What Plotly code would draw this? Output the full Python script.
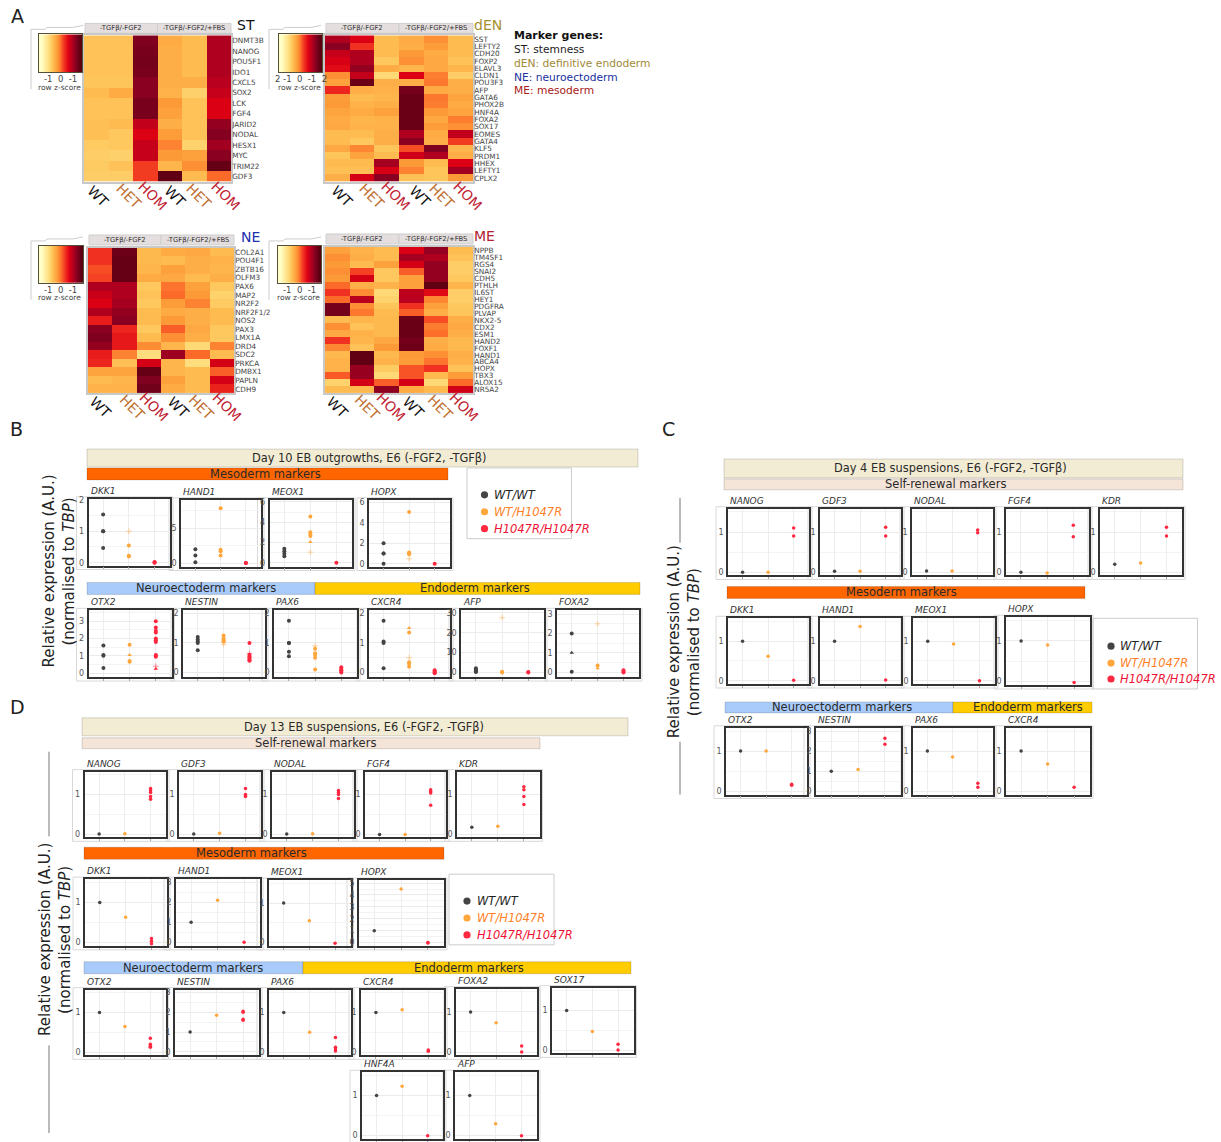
import plotly.graph_objects as go

W, H = 1221, 1142
FONT = "DejaVu Sans"

# ---------- heatmap data (colour level) ----------
COND_LABELS = ["WT", "HET", "HOM", "WT ", "HET ", "HOM "]
ST_GENES = ["DNMT3B","NANOG","POU5F1","IDO1","CXCL5","SOX2","LCK","FGF4","JARID2","NODAL","HESX1","MYC","TRIM22","GDF3"]
ST_Z = [[2.8,2.8,9,3.5,3,8],[2.8,2.8,9.2,3.4,3,8],[2.8,2.8,9.3,3.4,3,8],[2.8,2.8,9.2,3.4,3,8],
        [2.7,2.7,8.8,3.4,3.4,7.8],[3,3.5,8.8,3.3,2.3,7.5],[2.8,2.8,9.2,4,2.8,7],[2.8,2.8,9.2,3.8,2.8,7],
        [2.9,3,7.6,3.4,2.8,8.6],[2.9,2.6,7,3.9,2.8,8.9],[2.5,2.6,7.5,4.5,2.2,8.3],[2.4,2.3,7.5,4,3.8,8.8],
        [2.5,2.8,5.8,3.2,4.2,9.7],[2.4,2.4,5.8,9.8,3,5]]
DEN_GENES = ["SST","LEFTY2","CDH20","FOXP2","ELAVL3","CLDN1","POU3F3","AFP","GATA6","PHOX2B","HNF4A","FOXA2","SOX17","EOMES","GATA4","KLF5","PRDM1","HHEX","LEFTY1","CPLX2"]
DEN_Z = [[8,7,3,3.5,4.2,3],[8.8,6,3,3.4,3.9,3],[7.5,8,3,4,3.5,3],[7.1,8,2.6,4.2,3.6,2.8],[6.8,8.6,3.5,3.2,3.6,3.2],
         [4.2,7.6,2,7,4.6,2.4],[3.8,9.6,3.4,3.4,4.7,3.4],[6.2,3.4,3.3,9.3,3.5,3.4],[3.9,3,3.2,9.6,4.7,3.7],[4,3.3,3.4,9.6,4.6,3.5],
         [3.7,3.5,3.8,9.6,4,3.7],[3.5,3.2,3.3,9.6,3.6,4.6],[3.6,3.3,3.3,9.6,3.9,4.2],[3,3,3.4,8,3.5,7.6],[3,2.6,3.4,8.8,3.4,5.8],
         [3.6,4.4,2.7,5.5,9,3.2],[2.7,3.7,3,7.3,8,3.4],[3,3,8.2,4,3,7],[2.9,2.9,7.1,4.5,2.7,8.3],[3.4,7.2,8.8,2.9,2.7,4]]
NE_GENES = ["COL2A1","POU4F1","ZBTB16","OLFM3","PAX6","MAP2","NR2F2","NRF2F1/2","NOS2","PAX3","LMX1A","DRD4","SDC2","PRKCA","DMBX1","PAPLN","CDH9"]
NE_Z = [[6,9.5,3.1,3.5,3.6,3],[6,9.7,3.1,3,3.4,3.3],[5.5,9.7,3.2,3.8,3.4,3.2],[5.7,9.7,3.5,3.6,3,3.4],[8,8,2.6,4.8,3.8,2.6],
        [7.4,8,2.8,5,4,2.2],[7,8.2,2.6,3.9,4.5,2.5],[8,8.6,3,3.5,3.4,3],[6.4,8.8,3,4,3.4,3],[8.8,6.2,2.6,5.2,3.6,2.6],
        [9,6.5,3,4.2,3.4,2.6],[8.6,6.5,4.3,3.2,2,4.5],[6.4,4.5,1.8,8.4,5,3],[6.2,2.9,7.2,3.2,1.8,7.2],[3.7,3.7,9.7,3.2,3,5.2],
        [3,3.2,9,3.8,3,7.2],[3.3,3.3,9.4,3.5,3,6.3]]
ME_GENES = ["NPPB","TM4SF1","RGS4","SNAI2","CDH5","PTHLH","IL6ST","HEY1","PDGFRA","PLVAP","NKX2-5","CDX2","ESM1","HAND2","FOXF1","HAND1","ABCA4","HOPX","TBX3","ALOX15","NR5A2"]
ME_Z = [[3.8,3.3,3,7,8.6,3],[4.2,3.4,3,8.2,8,2.8],[4,3,3.8,7.2,8.6,2.4],[4.2,5.7,2.6,5.2,8.6,2.4],[4,7.2,2.6,3.8,8.6,2.6],
        [5,3.4,3.3,3.8,9.8,3.2],[6,4.3,2,7.7,6.8,2.4],[5,7.8,2.2,7.8,4.4,2.4],[9.3,4.2,2.7,6,3.8,2.6],[9.3,4.7,3,5.2,3.4,2.7],
        [3,3.2,3.1,9.6,5.5,3.4],[4.2,2.8,3.1,9.6,4.6,3.6],[3.6,3.3,3.1,9.6,4.9,3.4],[6,3.2,3.6,9.3,3.4,3.1],[4.4,2.8,4,9.5,3.5,3.1],
        [3.1,9.8,3.1,4,4.2,3.4],[3.3,9.8,3.3,3.9,4.8,3.3],[3.3,8.5,2.5,5.4,6,2.8],[5.3,8.5,2,5.4,3.1,3.9],[2.2,7.2,5.2,7.2,2,5],
        [3,3.1,8.7,3.5,3.1,7.3]]
KEY_LEVELS = [0,1,2,3,4,5,6,7,8,9,10]

# ---------- dot-plot data: relative expression per genotype ----------
B_WT = {"DKK1":[1.53,1,1,0.47],"HAND1":[2,1.1,0.1],"MEOX1":[1.4,1.15,0.9,0.65],"HOPX":[2,1,1,0.02],
        "OTX2":[1.6,1.05,1,0.3],"NESTIN":[1.2,1.12,1.05,1,0.75],"PAX6":[1.75,1,1,0.7,0.55],"CXCR4":[1.75,1.05,1,0.15],
        "AFP":[2.2,1.5,1,0.7,0.3],"FOXA2":[2,0.02]}
B_HET = {"DKK1":[0.55,0.22,0.2],"HAND1":[7.9,1.9,1.7,1.1],"MEOX1":[4.55,3,2.8,2.65],"HOPX":[5.05,1.1,1,0.95],
         "OTX2":[1.65,0.7,0.65],"NESTIN":[1.25,1.15,1.1,1.05,1.05],"PAX6":[0.8,0.65,0.6,0.5,0.1],"CXCR4":[1.35,0.35,0.3,0.2],
         "AFP":[0.4,0.1],"FOXA2":[0.35]}
B_HOM = {"DKK1":[0.02,0,0.01],"HAND1":[0.02,0],"MEOX1":[0.02],"HOPX":[0.02],
         "OTX2":[3,2.65,2.45,2.35,2,1.9,1.8,1.05,1,0.95],"NESTIN":[1,0.6,0.55,0.5,0.47,0.42,0.4],"PAX6":[0.18,0.12,0.08,0.05,0],
         "CXCR4":[0.08,0.04,0,-0.02],"AFP":[0.3,0.1],"FOXA2":[0.1,0.02,-0.02]}
B_WT_TRI = {"FOXA2":[1]}
B_HET_TRI = {"MEOX1":[2.05],"OTX2":[1.05],"CXCR4":[1.5],"FOXA2":[0.2]}
B_HOM_TRI = {"OTX2":[0.25]}
B_HET_FAINT = {"DKK1":[1],"MEOX1":[1.05],"HOPX":[0.5],"NESTIN":[0.95],"PAX6":[0.9],"CXCR4":[0.5],"AFP":[27.5],"FOXA2":[2.5]}
B_HOM_FAINT = {"OTX2":[0.4],"NESTIN":[0.65]}

C_WT = {"NANOG":[0],"GDF3":[0.02],"NODAL":[0.03],"FGF4":[0],"KDR":[0.2],"DKK1":[1],"HAND1":[1],"MEOX1":[1],"HOPX":[1],
        "OTX2":[1],"NESTIN":[1],"PAX6":[1],"CXCR4":[1]}
C_HET = {"NANOG":[0],"GDF3":[0.02],"NODAL":[0.03],"FGF4":[-0.02],"KDR":[0.23],"DKK1":[0.62],"HAND1":[1.37],"MEOX1":[0.93],"HOPX":[0.9],
         "OTX2":[1],"NESTIN":[1.08],"PAX6":[0.85],"CXCR4":[0.68]}
C_HOM = {"NANOG":[1.1,0.9],"GDF3":[1.12,0.9],"NODAL":[1.05,0.98],"FGF4":[1.17,0.88],"KDR":[1.12,0.9],"DKK1":[0.01],"HAND1":[0.02],"MEOX1":[0],"HOPX":[-0.02],
         "OTX2":[0.17,0.15],"NESTIN":[2.65,2.35],"PAX6":[0.2,0.1],"CXCR4":[0.1]}

D_WT = {"NANOG":[0],"GDF3":[0],"NODAL":[0],"FGF4":[-0.01],"KDR":[0.17],"DKK1":[1],"HAND1":[1],"MEOX1":[1],"HOPX":[1],
        "OTX2":[1],"NESTIN":[1],"PAX6":[1],"CXCR4":[1],"FOXA2":[1],"SOX17":[1],"HNF4A":[1],"AFP":[1]}
D_HET = {"NANOG":[0.01],"GDF3":[0.02],"NODAL":[0.01],"FGF4":[-0.01],"KDR":[0.2],"DKK1":[0.63],"HAND1":[2.1],"MEOX1":[0.55],"HOPX":[4.5],
         "OTX2":[0.65],"NESTIN":[1.85],"PAX6":[0.5],"CXCR4":[1.07],"FOXA2":[0.73],"SOX17":[0.47],"HNF4A":[1.23],"AFP":[0.3]}
D_HOM = {"NANOG":[1.15,1.1,1.05,0.95,0.88],"GDF3":[1.15,1,0.97,0.95],"NODAL":[1.1,1.05,1,0.9],"FGF4":[1.12,1.08,1.04,0.73],"KDR":[1.2,1.12,0.95,0.75],
         "DKK1":[0.1,0.03,-0.03],"HAND1":[0],"MEOX1":[-0.02],"HOPX":[-0.05,0],"OTX2":[0.35,0.2,0.15,0.12],"NESTIN":[2.05,2,1.65,1.6],
         "PAX6":[0.37,0.12,0.08,0.03],"CXCR4":[0.05,0.02],"FOXA2":[0.15,0],"SOX17":[0.15,0],"HNF4A":[0],"AFP":[0]}

GENO_LABELS = ["WT/WT", "WT/H1047R", "H1047R/H1047R"]
GENO_COLORS = ["#444444", "#FFA63C", "#FF2840"]
GENO_TEXT = ["#222222", "#FF7F27", "#EE1133"]
COLOR_SCALE = [[0,"#FFFFC8"],[0.2,"#FED976"],[0.3,"#FEBC50"],[0.4,"#FD9A38"],[0.5,"#FC6A2A"],[0.6,"#F03020"],
               [0.7,"#DC0014"],[0.8,"#B00020"],[0.9,"#800020"],[1,"#5A0010"]]

# ---------- layout tables (pixel boxes on the page) ----------
# gene, left, right, top, bottom, ymin, ymax, dtick
B_PANELS = [("DKK1",88.5,170,498,565,-0.09,2.03,1),("HAND1",181,261,499,566,-0.5,9.1,5),("MEOX1",269.5,352,499,566,-0.36,6.2,2),("HOPX",369,450,499,566,-0.26,6.25,2),
            ("OTX2",88.5,171.5,610,677,-0.23,3.64,1),("NESTIN",183,265,610,677,-0.15,2.1,1),("PAX6",274,357,610,677,-0.15,2.1,1),("CXCR4",369,450,610,677,-0.15,2.1,1),
            ("AFP",461,544,610,677,-2.2,31.2,10),("FOXA2",557,639,610,677,-0.25,3.2,1)]
R = (-0.083, 1.58)
C_PANELS = [("NANOG",728,809,508,575,*R,1),("GDF3",820,901,508,575,*R,1),("NODAL",912,993,508,575,*R,1),("FGF4",1006,1089,508,575,*R,1),("KDR",1100,1182,508,575,*R,1),
            ("DKK1",728,809,618,684,*R,1),("HAND1",820,901,618,684,*R,1),("MEOX1",913,995,618,684,*R,1),("HOPX",1006,1090,617,685,*R,1),
            ("OTX2",726,807,728,795,*R,1),("NESTIN",816,901,728,795,-0.17,3.17,1),("PAX6",913,993,728,795,*R,1),("CXCR4",1006,1090,728,795,*R,1)]
D_PANELS = [("NANOG",84.5,166,772,838,*R,1),("GDF3",179,261,772,838,*R,1),("NODAL",272,354,772,838,*R,1),("FGF4",365,446,772,838,*R,1),("KDR",457,539.5,772,838,*R,1),
            ("DKK1",85,167,880,947,*R,1),("HAND1",176,260,880,947,-0.18,3.15,1),("MEOX1",269,350.5,881,947,*R,1),("HOPX",359,444,881,947,-0.28,5.25,1),
            ("OTX2",85,165.6,991,1057,*R,1),("NESTIN",175,259,991,1057,-0.18,3.15,1),("PAX6",269,351,991,1057,*R,1),("CXCR4",361,444,991,1057,*R,1),
            ("FOXA2",456,537,990,1057,*R,1),("SOX17",552,633.5,989,1055,*R,1),("HNF4A",362,443,1074,1141,*R,1),("AFP",455,537,1074,1141,*R,1)]

fig = go.Figure()
shapes, annos = [], []
axis_n = [0]
layout_axes = {}

def fx(p): return p / W
def fy(p): return 1 - p / H

def new_axes(l, r, t, b):
    axis_n[0] += 1
    n = axis_n[0]
    s = "" if n == 1 else str(n)
    layout_axes["xaxis" + s] = dict(domain=[fx(l), fx(r)], anchor="y" + s)
    layout_axes["yaxis" + s] = dict(domain=[fy(b), fy(t)], anchor="x" + s)
    return "x" + s, "y" + s, "xaxis" + s, "yaxis" + s

def text(x, y, s, size=10, color="#333", xanchor="center", angle=0, family=FONT):
    annos.append(dict(xref="paper", yref="paper", x=fx(x), y=fy(y), text=s, showarrow=False, xanchor=xanchor,
                      yanchor="middle", textangle=angle, font=dict(size=size, color=color, family=family),
                      borderpad=0, borderwidth=0))

def rect(l, r, t, b, fill="rgba(0,0,0,0)", line="#cccccc", width=1):
    shapes.append(dict(type="rect", xref="paper", yref="paper", x0=fx(l), x1=fx(r), y0=fy(b), y1=fy(t),
                       fillcolor=fill, line=dict(color=line, width=width), layer="below"))

def bar(l, r, t, b, fill, label, tx, size=11.5, line="rgba(0,0,0,0.15)"):
    rect(l, r, t, b, fill=fill, line=line)
    text(tx, (t + b) / 2, label, size=size, color="#2a2a2a")

def heat(l, r, t, b, genes, z, label_size=7.3):
    xa, ya, xk, yk = new_axes(l, r, t, b)
    fig.add_trace(go.Heatmap(z=z, x=COND_LABELS, y=genes, colorscale=COLOR_SCALE, zmin=0, zmax=10, showscale=False,
                             xaxis=xa, yaxis=ya, hoverinfo="skip"))
    layout_axes[xk].update(showgrid=False, zeroline=False, showticklabels=False, ticks="", showline=True, mirror=True,
                           linecolor="#c8c8c8", linewidth=1.5, constrain="domain")
    layout_axes[yk].update(showgrid=False, zeroline=False, autorange="reversed", side="right", ticks="", showline=True, mirror=True,
                           linecolor="#c8c8c8", linewidth=1.5, tickmode="array", tickvals=genes, ticktext=genes, ticklabelstandoff=-2,
                           tickfont=dict(size=label_size, color="#444", family=FONT))

def key(l, r, t, b, labels, frame_l):
    xa, ya, xk, yk = new_axes(l, r, t, b)
    fig.add_trace(go.Heatmap(z=[KEY_LEVELS], colorscale=COLOR_SCALE, zmin=0, zmax=10, showscale=False, zsmooth="best",
                             xaxis=xa, yaxis=ya, hoverinfo="skip"))
    layout_axes[xk].update(showticklabels=False, showgrid=False, zeroline=False, ticks="", showline=True, mirror=True, linecolor="#55503a", linewidth=1.2)
    layout_axes[yk].update(showticklabels=False, showgrid=False, zeroline=False, ticks="", showline=True, mirror=True, linecolor="#55503a", linewidth=1.2)
    text((l + r) / 2, b + 7, labels, size=8.5, color="#444")
    text((l + r) / 2 - 1, b + 15, "row z-score", size=7.5, color="#444")
    path = f"M {fx(frame_l)} {fy(b+17)} L {fx(frame_l)} {fy(t-5)} L {fx(frame_l+14)} {fy(t-5)} L {fx(frame_l+16)} {fy(t-7)} L {fx(frame_l+42)} {fy(t-7)} L {fx(frame_l+52)} {fy(t-9)}"
    shapes.append(dict(type="path", xref="paper", yref="paper", path=path, line=dict(color="#cccccc", width=1), layer="below"))

def heat_block(l, r, t, b, genes, z, key_l, key_r, key_t, key_b, labels, frame_l, title, title_color, title_x, head_t, head_b, lab_x):
    heat(l, r, t, b, genes, z)
    key(key_l, key_r, key_t, key_b, labels, frame_l)
    mid = l + (r - l) / 2
    rect(l + 1, mid, head_t, head_b, fill="#E4DEDE", line="#cfcfcf")
    rect(mid, r, head_t, head_b, fill="#E4DEDE", line="#cfcfcf")
    text((l + mid) / 2, (head_t + head_b) / 2, "-TGFβ/-FGF2", size=6.8, color="#333")
    text((mid + r) / 2, (head_t + head_b) / 2, "-TGFβ/-FGF2/+FBS", size=6.8, color="#333")
    text(title_x, head_t + 2, title, size=14, color=title_color, xanchor="left")
    cols = ["#111111", "#C07030", "#C02030"] * 2
    for s, c, x in zip(COND_LABELS, cols, lab_x):
        text(x, b + 14, s.strip(), size=14, color=c, angle=45)

heat_block(84, 231, 32.5, 179.5, ST_GENES, ST_Z, 39, 82, 31.5, 69.5, "-1  0  -1", 31, "ST", "#111111", 237, 20.5, 30.5, [98,129,153,175,199,226])
heat_block(325, 473, 32.5, 179.5, DEN_GENES, DEN_Z, 279, 322, 31.5, 69.5, "2 -1  0  -1  2", 269, "dEN", "#A89030", 474, 20.5, 30.5, [342,372,396,420,442,468])
heat_block(88, 234, 246, 392, NE_GENES, NE_Z, 39, 83, 244, 281, "-1  0  -1", 31, "NE", "#2030B0", 241, 233, 243, [100,132,154,178,201,227])
heat_block(325, 473, 245, 392, ME_GENES, ME_Z, 278, 321, 244, 281, "-1  0  -1", 269, "ME", "#B02030", 474, 232, 242, [337,367,391,413,440,464])

text(514, 33, "<b>Marker genes:</b>", size=11, color="#111", xanchor="left")
text(514, 47, "ST: stemness", size=10.7, color="#222", xanchor="left")
text(514, 61, "dEN: definitive endoderm", size=10.7, color="#A08A38", xanchor="left")
text(514, 75, "NE: neuroectoderm", size=10.7, color="#2030A0", xanchor="left")
text(514, 88, "ME: mesoderm", size=10.7, color="#A82020", xanchor="left")

text(11, 13, "A", size=19, color="#222", xanchor="left")
text(10, 428, "B", size=19, color="#222", xanchor="left")
text(662, 428, "C", size=19, color="#222", xanchor="left")
text(10, 707, "D", size=19, color="#222", xanchor="left")

def dot_trace(xa, ya, pos, vals, color, symbol="circle", size=4.5, opacity=1.0):
    fig.add_trace(go.Scatter(x=[pos] * len(vals), y=vals, mode="markers", xaxis=xa, yaxis=ya, showlegend=False,
                             hoverinfo="skip", cliponaxis=False,
                             marker=dict(color=color, size=size, symbol=symbol, opacity=opacity, line=dict(width=0))))

def panels(table, wt, het, hom, size, extra=None):
    for gene, l, r, t, b, y0, y1, dt in table:
        rect(l - 12, r + 3, t - 2, b + 4, line="#d8d8d8", width=1)
        xa, ya, xk, yk = new_axes(l, r, t, b)
        for i, src in enumerate((wt, het, hom)):
            dot_trace(xa, ya, i, src.get(gene, []), GENO_COLORS[i], size=size)
        if extra:
            for i, src in enumerate(extra["tri"]):
                if gene in src:
                    dot_trace(xa, ya, i, src[gene], GENO_COLORS[i], symbol="triangle-up", size=size)
            for i, src in enumerate(extra["faint"]):
                if gene in src:
                    dot_trace(xa, ya, i, src[gene], GENO_COLORS[i], symbol="cross-thin", size=size, opacity=0.5)
                    fig.data[-1].marker.line = dict(width=1, color=GENO_COLORS[i])
        layout_axes[xk].update(range=[-0.57, 2.6], tickvals=[0, 1, 2], showticklabels=False, ticks="outside", ticklen=2, tickcolor="#aaa",
                               showgrid=True, gridcolor="#EDEDED", gridwidth=1, zeroline=False, showline=True, mirror=True,
                               linecolor="#333333", linewidth=1.5)
        layout_axes[yk].update(range=[y0, y1], dtick=dt, tick0=0, ticks="", ticklabelstandoff=1,
                               tickfont=dict(size=8, color="#555", family=FONT),
                               showgrid=True, gridcolor="#EBEBEB", gridwidth=1, zeroline=False, showline=True, mirror=True,
                               linecolor="#333333", linewidth=1.5,
                               minor=dict(dtick=dt / 2, tick0=0, showgrid=True, gridcolor="#F4F4F4", gridwidth=1))
        text(l + 2, t - 8, f"<i>{gene}</i>", size=9, color="#333", xanchor="left")

def legend_box(l, r, t, b, ys, dot_x, txt_x):
    rect(l, r, t, b, line="#cccccc")
    for lab, col, tc, y in zip(GENO_LABELS, GENO_COLORS, GENO_TEXT, ys):
        shapes.append(dict(type="circle", xref="paper", yref="paper", x0=fx(dot_x - 3.6), x1=fx(dot_x + 3.6),
                           y0=fy(y + 3.6), y1=fy(y - 3.6), fillcolor=col, line=dict(width=0)))
        text(txt_x, y, f"<i>{lab}</i>", size=11.5, color=tc, xanchor="left")

def vline(x, y0, y1):
    shapes.append(dict(type="line", xref="paper", yref="paper", x0=fx(x), x1=fx(x), y0=fy(y0), y1=fy(y1), line=dict(color="#777", width=1)))

def ylab(x1, x2, yc):
    text(x1, yc, "Relative expression (A.U.)", size=15, color="#222", angle=-90)
    text(x2, yc, "(normalised to <i>TBP</i>)", size=15, color="#222", angle=-90)

# Panel B
bar(87, 638, 448, 466, "#F3ECD4", "Day 10 EB outgrowths, E6 (-FGF2, -TGFβ)", 369, size=11.4)
bar(87, 448, 467, 479, "#FF6600", "Mesoderm markers", 265)
bar(87, 315, 582, 594, "#A9CBFB", "Neuroectoderm markers", 206)
bar(315, 640, 582, 594, "#FFCC00", "Endoderm markers", 475)
panels(B_PANELS, B_WT, B_HET, B_HOM, 4.0,
       extra=dict(tri=(B_WT_TRI, B_HET_TRI, B_HOM_TRI), faint=({}, B_HET_FAINT, B_HOM_FAINT)))
legend_box(467, 571.5, 467, 538, [494, 511, 528], 484.5, 494)
ylab(48, 68, 571)

# Panel C
bar(724, 1183, 458, 477, "#F3ECD4", "Day 4 EB suspensions, E6 (-FGF2, -TGFβ)", 951, size=11.4)
bar(724, 1183, 478, 489, "#F5E4D8", "Self-renewal markers", 945)
bar(727, 1085, 586, 598, "#FF6600", "Mesoderm markers", 901)
bar(725, 953, 702, 713, "#A9CBFB", "Neuroectoderm markers", 842)
bar(953, 1092, 702, 713, "#FFCC00", "Endoderm markers", 1028)
panels(C_PANELS, C_WT, C_HET, C_HOM, 3.5)
legend_box(1093, 1197.5, 618, 689, [646, 663, 679], 1111, 1120)
ylab(674, 694, 642)
vline(680, 497, 542)
vline(680, 742, 795)

# Panel D
bar(82, 628, 718, 736, "#F3ECD4", "Day 13 EB suspensions, E6 (-FGF2, -TGFβ)", 364, size=11.4)
bar(82, 540, 738, 749, "#F5E4D8", "Self-renewal markers", 315)
bar(84, 444, 848, 860, "#FF6600", "Mesoderm markers", 252)
bar(84, 303, 963, 975, "#A9CBFB", "Neuroectoderm markers", 193)
bar(303, 631, 963, 975, "#FFCC00", "Endoderm markers", 469)
panels(D_PANELS, D_WT, D_HET, D_HOM, 3.5)
legend_box(449, 554, 875, 946, [902, 919, 936], 467, 477)
ylab(45, 65, 941)
vline(49, 752, 837)
vline(49, 1047, 1135)

fig.update_layout(width=W, height=H, autosize=False, margin=dict(l=0, r=0, t=0, b=0), paper_bgcolor="white", plot_bgcolor="white",
                  showlegend=False, shapes=shapes, annotations=annos, font=dict(family=FONT), **layout_axes)
fig.write_html("out.html", config=dict(displayModeBar=False),
               post_script="document.body.style.margin='0';document.body.style.overflow='hidden';")
